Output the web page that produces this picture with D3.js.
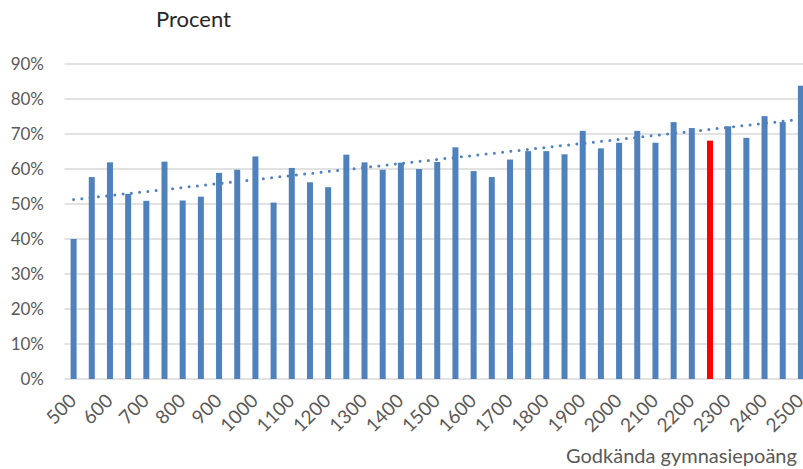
<!DOCTYPE html>
<html>
<head>
<meta charset="utf-8">
<script src="https://cdn.jsdelivr.net/npm/d3@7"></script>
<style>
  body { margin: 0; background: #fff; }
  svg { display: block; font-family: Lato, "Open Sans", sans-serif; }
</style>
</head>
<body>
<svg id="chart" width="803" height="469"></svg>
<script>
"use strict";
// points, one bar per 50
var points = [500, 550, 600, 650, 700, 750, 800, 850, 900, 950,
  1000, 1050, 1100, 1150, 1200, 1250, 1300, 1350, 1400, 1450,
  1500, 1550, 1600, 1650, 1700, 1750, 1800, 1850, 1900, 1950,
  2000, 2050, 2100, 2150, 2200, 2250, 2300, 2350, 2400, 2450, 2500];
// share passed, percent
var percent = [40.0, 57.7, 61.9, 52.9, 50.9, 62.1, 51.0, 52.1, 58.9, 59.8,
  63.6, 50.4, 60.3, 56.2, 54.8, 64.1, 61.9, 59.8, 61.8, 60.0,
  62.0, 66.2, 59.4, 57.7, 62.7, 65.1, 65.1, 64.2, 70.9, 65.9,
  67.5, 70.9, 67.5, 73.4, 71.7, 68.1, 72.2, 68.9, 75.1, 73.4, 83.8];
var highlighted = [2250];
var yTicks = [0, 10, 20, 30, 40, 50, 60, 70, 80, 90];
var xLabels = points.filter(function(p){ return p % 100 == 0; });

var svg = d3.select('#chart');

var x = d3.scaleBand()
  .domain(points)
  .range([64.5, 810])
  .paddingInner(0.67)
  .paddingOuter(0.335);

var y = d3.scaleLinear()
  .domain([0, 90])
  .range([379, 64]);

//gridlines
svg.append('g').selectAll('line').data(yTicks).enter().append('line')
  .attr('x1', 64.5)
  .attr('x2', 810)
  .attr('y1', function(d){ return y(d); })
  .attr('y2', function(d){ return y(d); })
  .style('stroke', '#d9d9d9')
  .style('stroke-width', 1.5);

//y tick labels
svg.append('g').selectAll('text').data(yTicks).enter().append('text')
  .attr('x', 44)
  .attr('y', function(d){ return y(d); })
  .attr('dy', '0.36em')
  .attr('text-anchor', 'end')
  .style('font-size', '17px')
  .style('fill', '#595959')
  .text(function(d){ return d + '%'; });

//bars
svg.append('g').selectAll('rect').data(points).enter().append('rect')
  .attr('x', function(d){ return x(d); })
  .attr('width', x.bandwidth())
  .attr('y', function(d, i){ return y(percent[i]); })
  .attr('height', function(d, i){ return y(0) - y(percent[i]); })
  .style('fill', function(d){ return highlighted.indexOf(d) >= 0 ? '#ff0000' : '#4f81bd'; });

//linear trendline (least squares over category index)
var n = points.length;
var mx = d3.mean(d3.range(n));
var my = d3.mean(percent);
var sxy = 0, sxx = 0;
for(var i = 0; i < n; i++){
  sxy += (i - mx) * (percent[i] - my);
  sxx += (i - mx) * (i - mx);
}
var slope = sxy / sxx;
var icpt = my - slope * mx;
var cx = function(p){ return x(p) + x.bandwidth() / 2; };

svg.append('line')
  .attr('x1', cx(points[0]))
  .attr('y1', y(icpt))
  .attr('x2', cx(points[n - 1]))
  .attr('y2', y(icpt + slope * (n - 1)))
  .style('stroke', '#4f81bd')
  .style('stroke-width', 3)
  .style('stroke-linecap', 'round')
  .style('stroke-dasharray', '0 8.3');

//x tick labels
svg.append('g').selectAll('text').data(xLabels).enter().append('text')
  .attr('transform', function(d){ return 'translate(' + (cx(d) + 4) + ',402) rotate(-45)'; })
  .attr('text-anchor', 'end')
  .style('font-size', '19px')
  .style('fill', '#595959')
  .text(function(d){ return d; });

//titles
svg.append('text')
  .attr('x', 156)
  .attr('y', 27)
  .style('font-size', '22px')
  .style('fill', '#262626')
  .text('Procent');

svg.append('text')
  .attr('x', 566)
  .attr('y', 463)
  .style('font-size', '20px')
  .style('fill', '#595959')
  .text('Godkända gymnasiepoäng');
</script>
</body>
</html>
